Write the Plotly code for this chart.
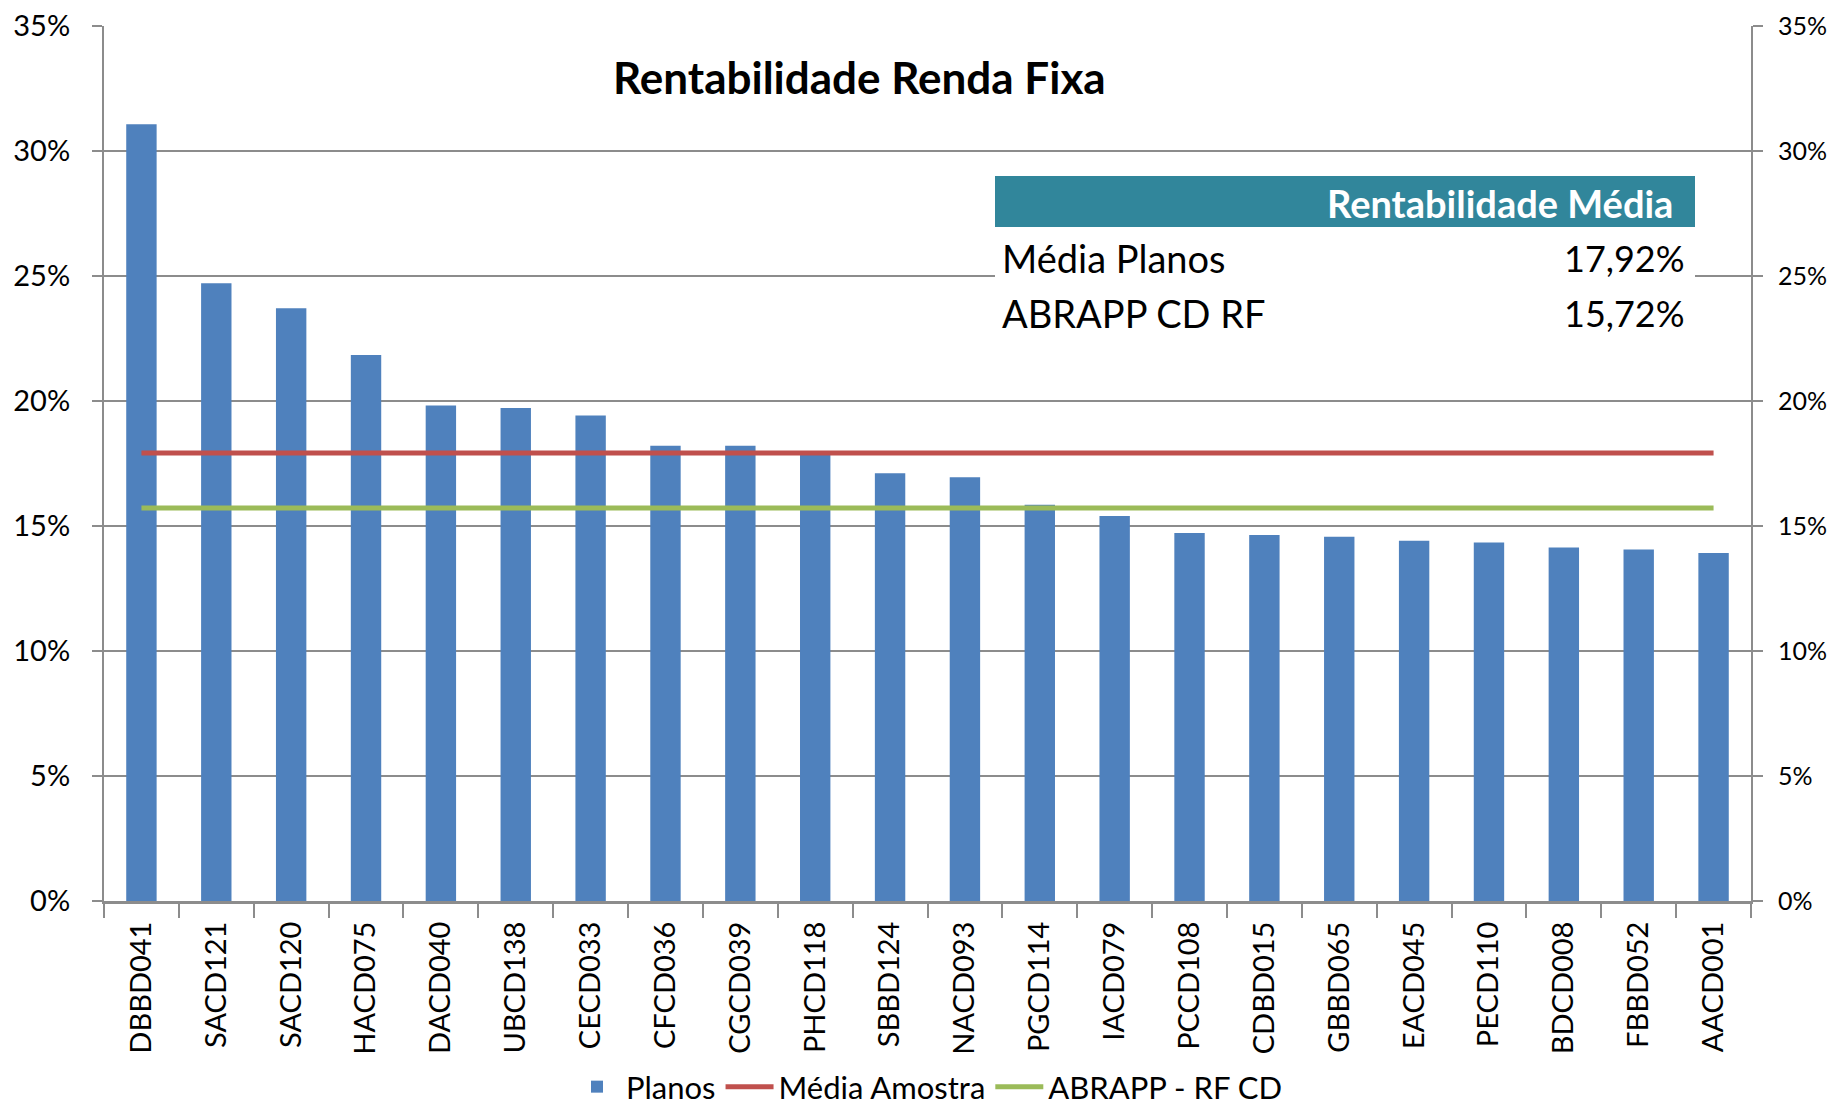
import plotly.graph_objects as go

categories = ["DBBD041", "SACD121", "SACD120", "HACD075", "DACD040", "UBCD138",
              "CECD033", "CFCD036", "CGCD039", "PHCD118", "SBBD124", "NACD093",
              "PGCD114", "IACD079", "PCCD108", "CDBD015", "GBBD065", "EACD045",
              "PECD110", "BDCD008", "FBBD052", "AACD001"]
planos = [31.07, 24.71, 23.71, 21.84, 19.82, 19.72, 19.42, 18.21, 18.21, 17.95, 17.11,
          16.95, 15.85, 15.40, 14.72, 14.64, 14.57, 14.41, 14.34, 14.14, 14.06, 13.92]
media_amostra = 17.92
abrapp_rf_cd = 15.72
table_rows = [("Média Planos", "17,92%"), ("ABRAPP CD RF", "15,72%")]
title_text = "Rentabilidade Renda Fixa"
table_header = "Rentabilidade Média"

FONT = "Lato, Carlito, Calibri, sans-serif"
GRID = "#8c8c8c"

W, H = 1833, 1113
L, R, T, B = 104, 1751, 26, 901
pw, ph = R - L, B - T


def px(x):
    return (x - L) / pw


def py(y):
    return (B - y) / ph


fig = go.Figure()
fig.add_trace(go.Bar(x=categories, y=[v / 100 for v in planos], name="Planos",
                     marker=dict(color="#4F81BD", line=dict(width=0)), yaxis="y"))
fig.add_trace(go.Scatter(x=categories, y=[media_amostra / 100] * len(categories),
                         name="Média Amostra", mode="lines",
                         line=dict(color="#C0504D", width=5), yaxis="y2"))
fig.add_trace(go.Scatter(x=categories, y=[abrapp_rf_cd / 100] * len(categories),
                         name="ABRAPP - RF CD", mode="lines",
                         line=dict(color="#9BBB59", width=5), yaxis="y2"))

shapes = [
    dict(type="rect", xref="paper", yref="paper", x0=px(995), x1=px(1695),
         y0=py(339), y1=py(227), fillcolor="white", line=dict(width=0), layer="above"),
    dict(type="rect", xref="paper", yref="paper", x0=px(995), x1=px(1695),
         y0=py(227), y1=py(176), fillcolor="#31869B", line=dict(width=0), layer="above"),
]

annotations = [
    dict(text="<b>" + title_text + "</b>", xref="paper", yref="paper",
         x=px(859), y=py(77), xanchor="center", yanchor="middle", showarrow=False,
         font=dict(family=FONT, size=44, color="black")),
    dict(text="<b>" + table_header + "</b>", xref="paper", yref="paper",
         x=px(1675), y=py(203), xanchor="right", yanchor="middle", showarrow=False,
         font=dict(family=FONT, size=38, color="white")),
]
row_y = [258, 313]
for (label, val), yy in zip(table_rows, row_y):
    annotations.append(dict(text=label, xref="paper", yref="paper", x=px(1000), y=py(yy),
                            xanchor="left", yanchor="middle", showarrow=False,
                            font=dict(family=FONT, size=38, color="black")))
    annotations.append(dict(text=val, xref="paper", yref="paper", x=px(1687), y=py(yy),
                            xanchor="right", yanchor="middle", showarrow=False,
                            font=dict(family=FONT, size=36, color="black")))

yax = dict(range=[0, 0.35], dtick=0.05, tick0=0, tickformat=".0%",
           ticks="outside", ticklen=10, tickcolor=GRID, tickwidth=2,
           showline=True, linecolor=GRID, linewidth=2, zeroline=False)

fig.update_layout(
    width=W, height=H,
    margin=dict(l=L, r=W - R, t=T, b=H - B, autoexpand=False),
    paper_bgcolor="white", plot_bgcolor="white",
    bargap=0.594,
    showlegend=True,
    legend=dict(orientation="h", x=0.5, xanchor="center", y=py(1087), yanchor="middle",
                font=dict(family=FONT, size=31, color="black"),
                itemwidth=48, tracegroupgap=0, bgcolor="rgba(0,0,0,0)"),
    xaxis=dict(type="category", tickangle=-90, ticks="outside", tickson="boundaries",
               ticklen=14, tickcolor=GRID, tickwidth=2,
               tickfont=dict(family=FONT, size=29, color="black"),
               showline=True, linecolor=GRID, linewidth=3, showgrid=False,
               ticklabelstandoff=6),
    yaxis=dict(**yax, side="left", showgrid=True, gridcolor=GRID, gridwidth=2,
               tickfont=dict(family=FONT, size=29, color="black"),
               ticklabelstandoff=16),
    yaxis2=dict(**yax, side="right", overlaying="y", showgrid=False,
                tickfont=dict(family=FONT, size=25, color="black"),
                ticklabelstandoff=10),
    shapes=shapes,
    annotations=annotations,
)

fig.write_html("out.html", config={"displayModeBar": False},
               post_script="document.body.style.margin='0';document.body.style.overflow='hidden';")
